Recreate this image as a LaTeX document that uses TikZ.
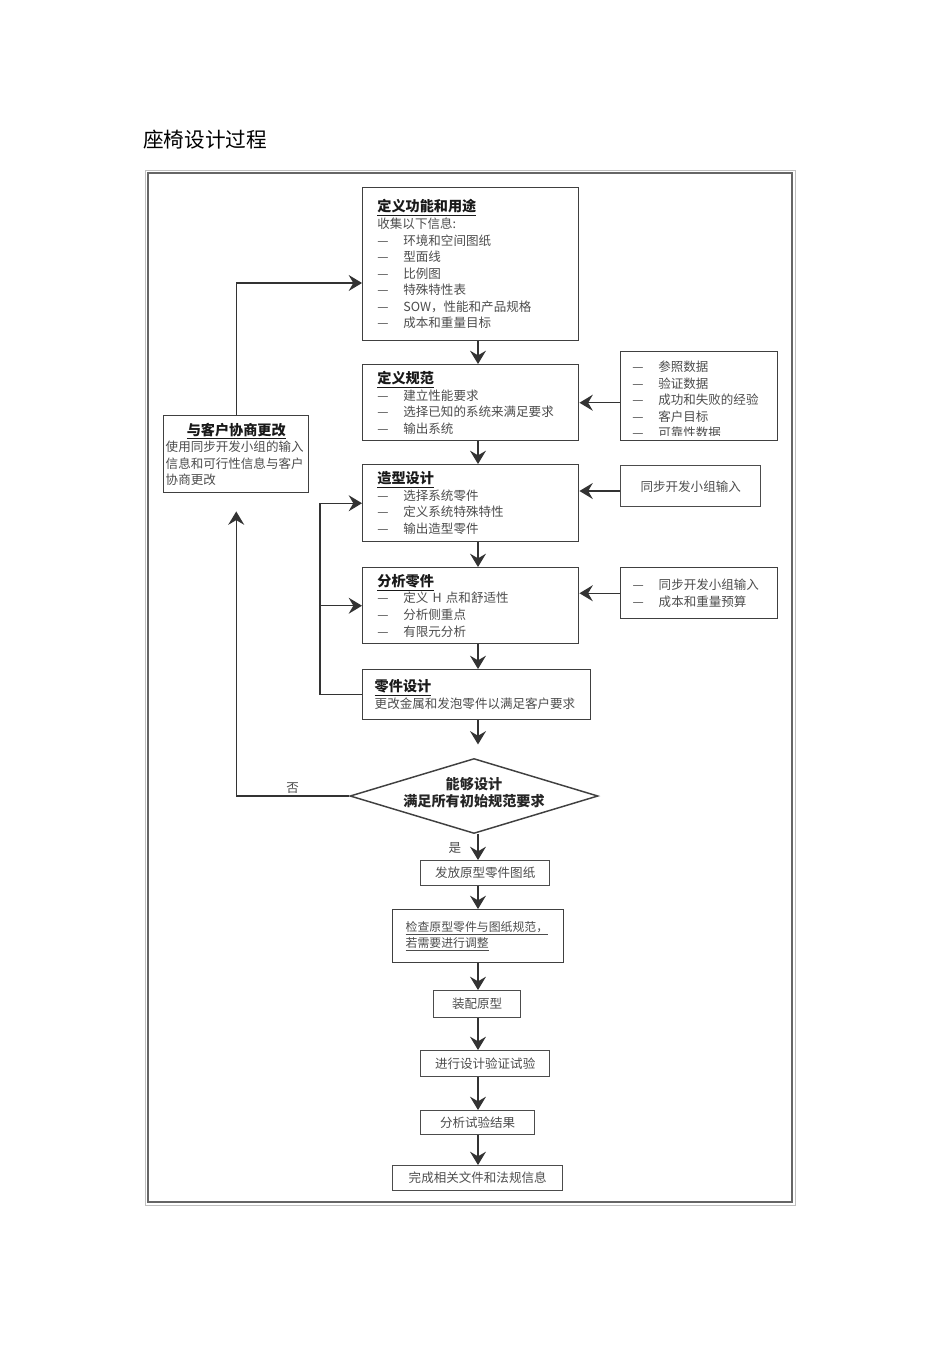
\documentclass[tikz,border=0pt]{standalone}
\usepackage{fontspec}
\setmainfont{Noto Sans CJK SC}
\usetikzlibrary{shapes.geometric,arrows.meta,calc}

\newcommand{\dashitem}[1]{\makebox[19.5pt][l]{—}#1}
\newcommand{\boxtitle}[1]{{\fontsize{10.6}{12.4}\selectfont\bfseries\color{black!90}\underline{#1}}}

\begin{document}
\begin{tikzpicture}[
      x=0.75pt, y=-0.75pt,
      every node/.style={
        inner sep=0pt,
        text=black!70,
        font=\fontsize{9.4}{12.4}\selectfont
      },
      box/.style={
        draw=black!75,
        line width=1.1pt,
        anchor=north west,
        align=left,
        inner xsep=11pt
      },
      smallbox/.style={
        draw=black!70,
        line width=1pt,
        anchor=north west,
        align=center
      },
      arr/.style={
        draw=black!80,
        line width=1.1pt,
        -{Stealth[length=10pt,width=12pt,inset=3.5pt]}
      }
    ]
      \useasboundingbox (0,0) rectangle (950,1345);

      \node[anchor=west, text=black, font=\fontsize{15.5}{18}\selectfont]
        (title) at (143,140) {座椅设计过程};

      \draw[black!25, line width=0.6pt] (145,170) rectangle (795,1205);
      \draw[black!60, line width=0.8pt] (148,173) rectangle (792,1202);

      \node[box, text width=140pt, minimum height=114.75pt] (func) at (362,187)
        {\boxtitle{定义功能和用途}\\ 收集以下信息:\\
         \dashitem{环境和空间图纸}\\ \dashitem{型面线}\\ \dashitem{比例图}\\
         \dashitem{特殊特性表}\\ \dashitem{SOW，性能和产品规格}\\
         \dashitem{成本和重量目标}};

      \node[box, text width=140pt, minimum height=57pt] (spec) at (362,364)
        {\boxtitle{定义规范}\\ \dashitem{建立性能要求}\\
         \dashitem{选择已知的系统来满足要求}\\ \dashitem{输出系统}};

      \node[box, text width=140pt, minimum height=57.75pt] (style) at (362,464)
        {\boxtitle{造型设计}\\ \dashitem{选择系统零件}\\
         \dashitem{定义系统特殊特性}\\ \dashitem{输出造型零件}};

      \node[box, text width=140pt, minimum height=57pt] (part) at (362,567)
        {\boxtitle{分析零件}\\ \dashitem{定义 H 点和舒适性}\\
         \dashitem{分析侧重点}\\ \dashitem{有限元分析}};

      \node[box, inner xsep=9pt, text width=153pt, minimum height=37.5pt] (pdesign) at (362,669)
        {\boxtitle{零件设计}\\ 更改金属和发泡零件以满足客户要求};

      % reference data, last line cut by the frame
      \begin{scope}
        \clip (620,351) rectangle (620+157,435);
        \node[anchor=north west, align=left] (reftxt) at (632,361)
          {\dashitem{参照数据}\\ \dashitem{验证数据}\\
           \dashitem{成功和失败的经验}\\ \dashitem{客户目标}\\
           \dashitem{可靠性数据}};
      \end{scope}
      \node[draw=black!75, line width=1.1pt, anchor=north west,
        minimum width=117.75pt, minimum height=66.75pt] (ref) at (620,351) {};

      \node[smallbox, line width=1.1pt, minimum width=105pt, minimum height=30.75pt]
        (sync) at (620,465) {同步开发小组输入};

      \node[box, inner xsep=9pt, text width=99.75pt, minimum height=38.25pt] (budget) at (620,567)
        {\dashitem{同步开发小组输入}\\ \dashitem{成本和重量预算}};

      \node[box, inner xsep=1.5pt, text width=105.75pt, minimum height=57.75pt] (chg) at (163,415)
        {\makebox[105.75pt]{\boxtitle{与客户协商更改}}\\
         使用同步开发小组的输入\\ 信息和可行性信息与客户\\ 协商更改};

      \node[diamond, draw=black!75, line width=1.1pt, aspect=3.3,
        minimum width=186pt, minimum height=56.25pt] (check) at (474,796) {};
      \node[align=center, text=black!85,
        font=\fontsize{10.6}{12.75}\selectfont\bfseries]
        (checktxt) at ([yshift=2.6pt]check.center) {能够设计\\满足所有初始规范要求};

      \node[smallbox, minimum width=96.75pt, minimum height=18.75pt] (release) at (420,860)
        {发放原型零件图纸};
      \node[box, inner xsep=9.75pt, text width=108.75pt, minimum height=39.75pt,
        font=\fontsize{8.9}{12.6}\selectfont] (verify) at (392,909)
        {\underline{检查原型零件与图纸规范，}\\ \underline{若需要进行调整}};
      \node[smallbox, minimum width=65.25pt, minimum height=20.25pt] (assembly) at (433,990)
        {装配原型};
      \node[smallbox, minimum width=96.75pt, minimum height=19.5pt] (dvtest) at (420,1050)
        {进行设计验证试验};
      \node[smallbox, minimum width=85.5pt, minimum height=18pt] (results) at (420,1110)
        {分析试验结果};
      \node[smallbox, minimum width=127.5pt, minimum height=18.75pt] (docs) at (392,1165)
        {完成相关文件和法规信息};

      \coordinate (spine) at (478,0);
      \coordinate (loop) at (320,0);
      \coordinate (back) at (0,283);
      \coordinate (in3) at (0,491);

      \draw[arr] (func.south -| spine) -- (spec.north -| spine);
      \draw[arr] (spec.south -| spine) -- (style.north -| spine);
      \draw[arr] (style.south -| spine) -- (part.north -| spine);
      \draw[arr] (part.south -| spine) -- (pdesign.north -| spine);
      \draw[arr, shorten >=10pt] (pdesign.south -| spine) -- (check.north -| spine);
      \draw[arr] (check.south -| spine)
        -- node[pos=0.55, left=12pt] {是} (release.north -| spine);
      \draw[arr] (release.south -| spine) -- (verify.north -| spine);
      \draw[arr] (verify.south -| spine) -- (assembly.north -| spine);
      \draw[arr] (assembly.south -| spine) -- (dvtest.north -| spine);
      \draw[arr] (dvtest.south -| spine) -- (results.north -| spine);
      \draw[arr] (results.south -| spine) -- (docs.north -| spine);

      \draw[arr] (ref.west |- spec.east) -- (spec.east);
      \draw[arr] (sync.west |- in3) -- (style.east |- in3);
      \draw[arr] (budget.west) -- (part.east |- budget.west);

      \draw[arr] (pdesign.west) -- (pdesign.west -| loop) |- (style.west);
      \draw[arr] (part.west -| loop) -- (part.west);

      \draw[arr, shorten >=13.5pt] (check.west)
        -| node[pos=0.25, above=1pt] {否} (chg.south);
      \draw[arr] (chg.north) |- (func.west |- back);
    \end{tikzpicture}
\end{document}
